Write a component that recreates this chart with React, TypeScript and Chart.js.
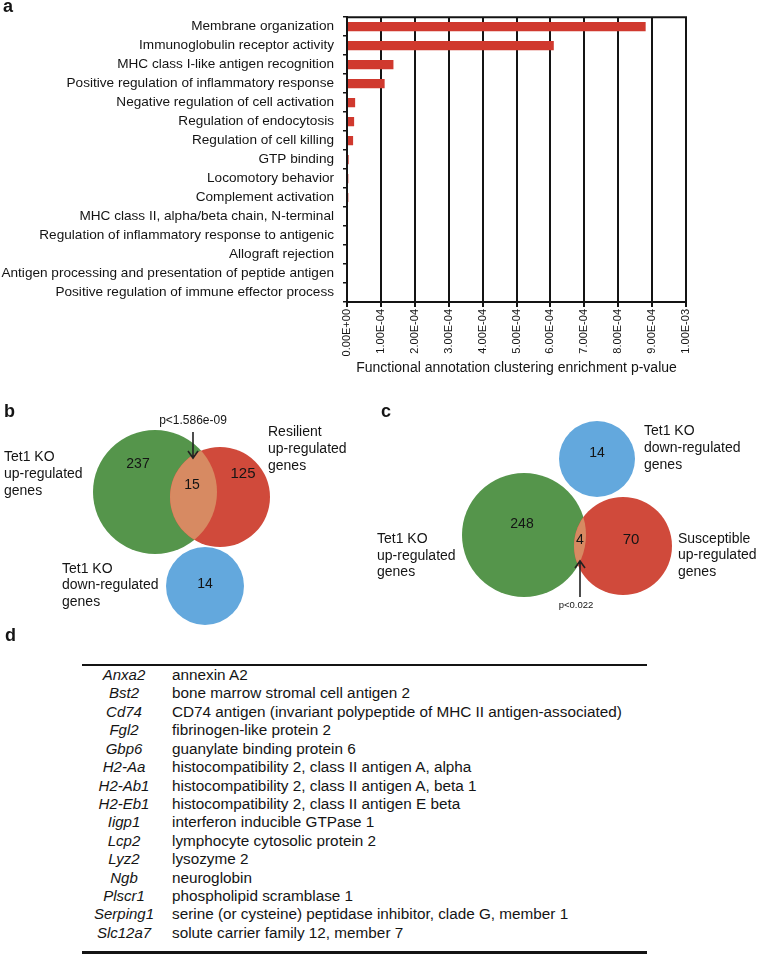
import React, { useEffect, useRef } from 'react';
import { Chart, registerables } from 'chart.js';

Chart.register(...registerables);

const FONT = '"Liberation Sans", Arial, sans-serif';
const INK = '#141414';

// ---------- panel a data ----------
const CATEGORIES = [
  'Membrane organization',
  'Immunoglobulin receptor activity',
  'MHC class I-like antigen recognition',
  'Positive regulation of inflammatory response',
  'Negative regulation of cell activation',
  'Regulation of endocytosis',
  'Regulation of cell killing',
  'GTP binding',
  'Locomotory behavior',
  'Complement activation',
  'MHC class II, alpha/beta chain, N-terminal',
  'Regulation of inflammatory response to antigenic',
  'Allograft rejection',
  'Antigen processing and presentation of peptide antigen',
  'Positive regulation of immune effector process',
];
const P_VALUES = [
  8.81e-4, 6.1e-4, 1.37e-4, 1.11e-4, 0.24e-4, 0.21e-4, 0.18e-4,
  0.05e-4, 0.04e-4, 0.04e-4, 0.03e-4, 0.03e-4, 0.03e-4, 0, 0,
];
const X_TICK_LABELS = [
  '0.00E+00', '1.00E-04', '2.00E-04', '3.00E-04', '4.00E-04', '5.00E-04',
  '6.00E-04', '7.00E-04', '8.00E-04', '9.00E-04', '1.00E-03',
];
const X_TITLE = 'Functional annotation clustering enrichment p-value';

// ---------- panels b / c data ----------
const VENN_SETS = [
  'b: Tet1 KO up-regulated', 'b: Resilient up-regulated', 'b: Tet1 KO down-regulated',
  'c: Tet1 KO up-regulated', 'c: Susceptible up-regulated', 'c: Tet1 KO down-regulated',
];
const VENN_X = [155, 220, 205, 524, 623, 597];
const VENN_Y = [492, 497, 586, 535, 546, 459];
const VENN_R = [62, 50, 39, 62, 49, 38];
const VENN_COLORS = ['#55954b', '#d04a3b', '#63a8dd', '#55954b', '#d04a3b', '#63a8dd'];
const LENS_COLOR = '#d78a62';

// ---------- panel d data ----------
const GENES = [
  'Anxa2', 'Bst2', 'Cd74', 'Fgl2', 'Gbp6', 'H2-Aa', 'H2-Ab1', 'H2-Eb1',
  'Iigp1', 'Lcp2', 'Lyz2', 'Ngb', 'Plscr1', 'Serping1', 'Slc12a7',
];
const DESCRIPTIONS = [
  'annexin A2',
  'bone marrow stromal cell antigen 2',
  'CD74 antigen (invariant polypeptide of MHC II antigen-associated)',
  'fibrinogen-like protein 2',
  'guanylate binding protein 6',
  'histocompatibility 2, class II antigen A, alpha',
  'histocompatibility 2, class II antigen A, beta 1',
  'histocompatibility 2, class II antigen E beta',
  'interferon inducible GTPase 1',
  'lymphocyte cytosolic protein 2',
  'lysozyme 2',
  'neuroglobin',
  'phospholipid scramblase 1',
  'serine (or cysteine) peptidase inhibitor, clade G, member 1',
  'solute carrier family 12, member 7',
];

const topBorder = {
  id: 'topBorder',
  afterDraw(chart: any) {
    const { ctx, chartArea: a } = chart;
    ctx.save();
    ctx.strokeStyle = INK;
    ctx.lineWidth = 2;
    ctx.beginPath();
    ctx.moveTo(a.left - 1, a.top);
    ctx.lineTo(a.right + 1, a.top);
    ctx.stroke();
    ctx.restore();
  },
};

function BarChart() {
  const ref = useRef<HTMLCanvasElement>(null);
  useEffect(() => {
    const chart = new Chart(ref.current as HTMLCanvasElement, {
      type: 'bar',
      data: {
        labels: CATEGORIES,
        datasets: [
          {
            data: P_VALUES,
            backgroundColor: '#d0392e',
            categoryPercentage: 1,
            barPercentage: 0.48,
          },
        ],
      },
      options: {
        indexAxis: 'y',
        responsive: false,
        animation: false,
        events: [],
        layout: { padding: { top: 12, right: 73, left: 0, bottom: 0 } },
        plugins: { legend: { display: false }, tooltip: { enabled: false } },
        scales: {
          x: {
            type: 'linear',
            min: 0,
            max: 0.001,
            position: 'bottom',
            ticks: {
              stepSize: 0.0001,
              autoSkip: false,
              minRotation: 90,
              maxRotation: 90,
              padding: 2,
              color: INK,
              font: { family: FONT, size: 11 },
              callback: (_v: any, i: number) => X_TICK_LABELS[i],
            },
            grid: { color: INK, lineWidth: 2, tickLength: 5, drawOnChartArea: true },
            border: { color: INK, width: 2 },
            title: {
              display: true,
              text: X_TITLE,
              color: INK,
              font: { family: FONT, size: 14 },
              padding: { top: 4, bottom: 3 },
            },
            afterFit: (s: any) => {
              s.height = 78;
            },
          },
          y: {
            ticks: { color: INK, font: { family: FONT, size: 13.6 }, padding: 9, autoSkip: false },
            grid: { color: INK, lineWidth: 1.5, tickLength: 4, drawOnChartArea: false, offset: true },
            border: { color: INK, width: 2 },
            afterFit: (s: any) => {
              s.width = 347;
            },
          },
        },
      } as any,
      plugins: [topBorder],
    });
    return () => chart.destroy();
  }, []);
  return (
    <canvas
      ref={ref}
      width={759}
      height={380}
      style={{ position: 'absolute', left: 0, top: 0, width: 759, height: 380 }}
    />
  );
}

const vennOverlay = {
  id: 'vennOverlay',
  afterDatasetsDraw(chart: any, _args: any, opts: any) {
    const ctx = chart.ctx;
    const meta = chart.getDatasetMeta(0);
    for (const [a, b] of opts.pairs) {
      const ea = meta.data[a];
      const eb = meta.data[b];
      ctx.save();
      ctx.beginPath();
      ctx.arc(ea.x, ea.y, ea.options.radius, 0, Math.PI * 2);
      ctx.clip();
      ctx.beginPath();
      ctx.arc(eb.x, eb.y, eb.options.radius, 0, Math.PI * 2);
      ctx.fillStyle = opts.lensColor;
      ctx.fill();
      ctx.restore();
    }
    const xs = chart.scales.x;
    const ys = chart.scales.y;
    ctx.save();
    ctx.strokeStyle = '#222';
    ctx.lineWidth = 1.6;
    for (const ar of opts.arrows) {
      const x = xs.getPixelForValue(ar.x);
      const y0 = ys.getPixelForValue(ar.from);
      const y1 = ys.getPixelForValue(ar.to);
      const dir = y1 > y0 ? -1 : 1;
      ctx.beginPath();
      ctx.moveTo(x, y0);
      ctx.lineTo(x, y1);
      ctx.moveTo(x - 5, y1 + dir * 7);
      ctx.lineTo(x, y1);
      ctx.lineTo(x + 5, y1 + dir * 7);
      ctx.stroke();
    }
    ctx.restore();
  },
};

function VennChart() {
  const ref = useRef<HTMLCanvasElement>(null);
  useEffect(() => {
    const chart = new Chart(ref.current as HTMLCanvasElement, {
      type: 'bubble',
      data: {
        labels: VENN_SETS,
        datasets: [
          {
            data: VENN_X.map((x, i) => ({ x, y: VENN_Y[i], r: VENN_R[i] })),
            backgroundColor: VENN_COLORS,
            borderWidth: 0,
            hoverRadius: 0,
            hoverBorderWidth: 0,
          },
        ],
      },
      options: {
        responsive: false,
        animation: false,
        events: [],
        layout: { padding: 0, autoPadding: false },
        plugins: {
          legend: { display: false },
          tooltip: { enabled: false },
          vennOverlay: {
            pairs: [[0, 1], [3, 4]],
            lensColor: LENS_COLOR,
            arrows: [
              { x: 193, from: 432, to: 458 },
              { x: 580, from: 597, to: 561 },
            ],
          },
        },
        scales: {
          x: { type: 'linear', min: 0, max: 759, display: false },
          y: { type: 'linear', min: 380, max: 660, reverse: true, display: false },
        },
      } as any,
      plugins: [vennOverlay],
    });
    return () => chart.destroy();
  }, []);
  return (
    <canvas
      ref={ref}
      width={759}
      height={280}
      style={{ position: 'absolute', left: 0, top: 380, width: 759, height: 280 }}
    />
  );
}

type Lbl = { text: string; x: number; y: number; size?: number; center?: boolean; bold?: boolean };

const TEXTS: Lbl[] = [
  { text: 'a', x: 3, y: -3.5, size: 18, bold: true },
  { text: 'b', x: 4, y: 401.5, size: 18, bold: true },
  { text: 'c', x: 381, y: 401.5, size: 18, bold: true },
  { text: 'd', x: 5, y: 626, size: 18, bold: true },
  // panel b
  { text: 'Tet1 KO\nup-regulated\ngenes', x: 4, y: 448.3 },
  { text: 'Resilient\nup-regulated\ngenes', x: 268, y: 423.4 },
  { text: 'Tet1 KO\ndown-regulated\ngenes', x: 62, y: 559.6 },
  { text: '237', x: 138, y: 463, center: true },
  { text: '15', x: 192, y: 484, center: true },
  { text: '125', x: 243, y: 472, center: true, size: 15 },
  { text: '14', x: 205, y: 583, center: true },
  { text: 'p<1.586e-09', x: 193, y: 420, center: true, size: 12 },
  // panel c
  { text: 'Tet1 KO\ndown-regulated\ngenes', x: 644, y: 422.4 },
  { text: 'Tet1 KO\nup-regulated\ngenes', x: 377, y: 530 },
  { text: 'Susceptible\nup-regulated\ngenes', x: 678, y: 529.7 },
  { text: '14', x: 597, y: 452, center: true },
  { text: '248', x: 522, y: 523, center: true },
  { text: '4', x: 580, y: 539, center: true },
  { text: '70', x: 631, y: 538, center: true, size: 15 },
  { text: 'p<0.022', x: 576, y: 603.5, center: true, size: 9.5 },
];

function TextLayer() {
  return (
    <>
      {TEXTS.map((t, i) => {
        const size = t.size ?? 14;
        const style: React.CSSProperties = {
          position: 'absolute',
          left: t.x,
          top: t.y,
          fontFamily: FONT,
          fontSize: size,
          fontWeight: t.bold ? 700 : 400,
          color: INK,
          whiteSpace: 'pre',
          lineHeight: t.bold ? 1 : t.center ? 'normal' : '16.7px',
          transform: t.center ? 'translate(-50%, -50%)' : undefined,
        };
        return (
          <div key={i} style={style}>
            {t.text}
          </div>
        );
      })}
    </>
  );
}

function GeneTable() {
  return (
    <div
      style={{
        position: 'absolute',
        left: 82,
        top: 664,
        width: 565,
        borderTop: `2.5px solid ${INK}`,
        borderBottom: `3px solid ${INK}`,
        paddingBottom: 9,
        fontFamily: FONT,
        color: INK,
      }}
    >
      {GENES.map((g, i) => (
        <div key={g} style={{ position: 'relative', height: 18.43, lineHeight: '18.43px', whiteSpace: 'nowrap' }}>
          <span
            style={{
              position: 'absolute',
              left: 0,
              width: 84,
              textAlign: 'center',
              fontStyle: 'italic',
              fontSize: 15,
            }}
          >
            {g}
          </span>
          <span style={{ position: 'absolute', left: 90, fontSize: 15.3 }}>{DESCRIPTIONS[i]}</span>
        </div>
      ))}
    </div>
  );
}

export default function App() {
  return (
    <div
      style={{
        position: 'absolute',
        left: 0,
        top: 0,
        width: 759,
        height: 955,
        background: '#fff',
        overflow: 'hidden',
      }}
    >
      <BarChart />
      <VennChart />
      <TextLayer />
      <GeneTable />
    </div>
  );
}
